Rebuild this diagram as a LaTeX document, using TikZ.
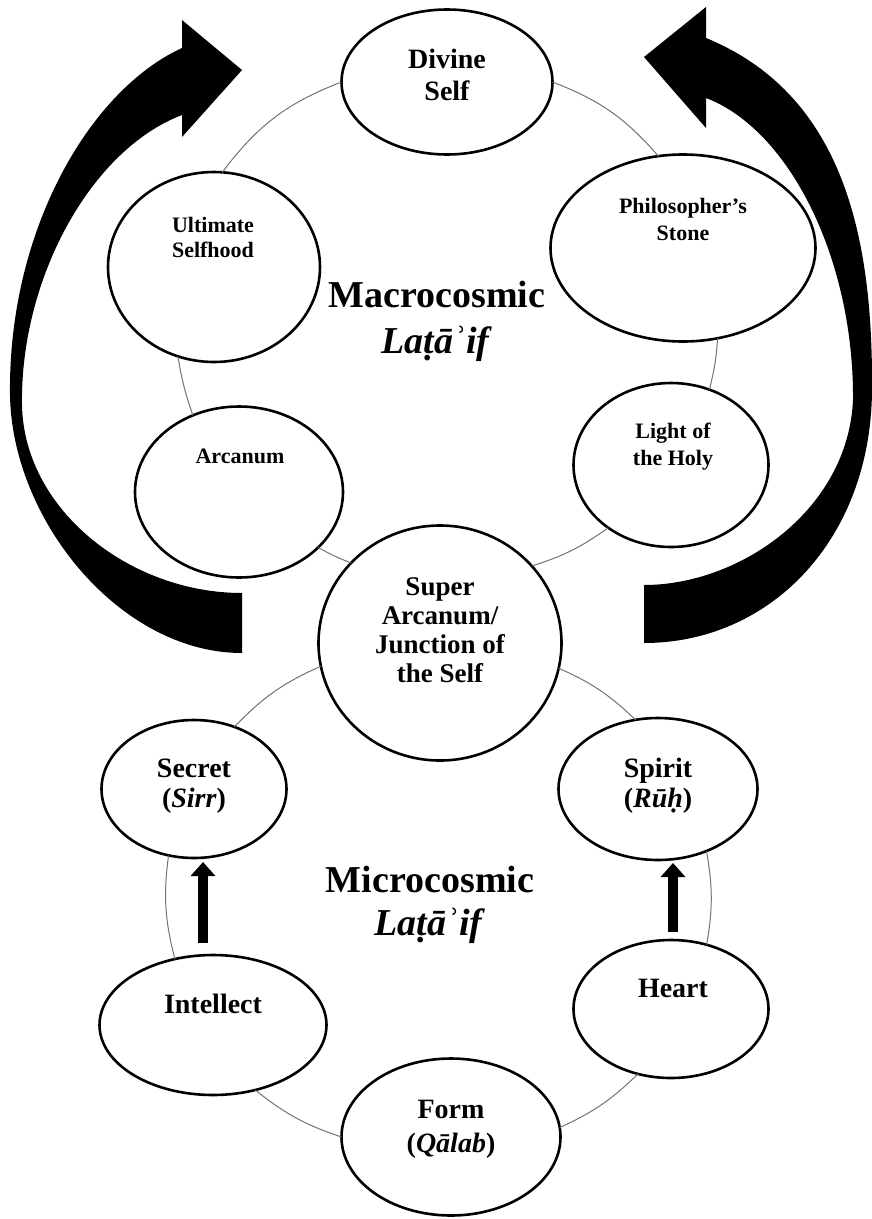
\documentclass[tikz,border=0pt]{standalone}
\usepackage{fontspec}
\setmainfont{Liberation Serif}
\usetikzlibrary{arrows.meta,shapes.geometric}
\tikzset{
  oval/.style={ellipse, draw, line width=2.6pt, fill=white, inner sep=0pt, outer sep=0pt},
  conn/.style={draw=black!55, line width=1pt},
  small/.style={font=\bfseries\fontsize{22}{26}\selectfont, align=center, anchor=base, inner sep=0pt},
  med/.style={font=\bfseries\fontsize{28}{31}\selectfont, align=center, anchor=base, inner sep=0pt},
  big/.style={font=\bfseries\fontsize{38}{46}\selectfont, align=center, anchor=base, inner sep=0pt},
  uparrow/.style={line width=10pt, -{Triangle[width=24pt,length=14pt]}},
  bigarrow/.style={fill=black, draw=none},
}
\begin{document}
\begin{tikzpicture}[x=1pt,y=-1pt]
\useasboundingbox (0,0) rectangle (872,1219);
% big curved arrows
\path[bigarrow] (242,593) .. controls (130,593) and (24,510) .. (22,405)
  .. controls (20,280) and (90,150) .. (182,115)
  -- (182,137) -- (242,70) -- (182,20) -- (182,48)
  .. controls (90,90) and (8,230) .. (10,395)
  .. controls (12,520) and (120,653) .. (242,653) -- cycle;
\path[bigarrow] (644,585) .. controls (740,585) and (848,510) .. (853,400)
  .. controls (854,260) and (790,130) .. (706,98)
  -- (706,128) -- (644,57) -- (706,7) -- (706,38)
  .. controls (845,95) and (873,240) .. (872,390)
  .. controls (871,540) and (770,643) .. (644,643) -- cycle;
% ovals
\node[oval, minimum width=211pt, minimum height=145pt] (dv) at (447,82) {};
\node[oval, minimum width=212pt, minimum height=190pt] (us) at (214,267) {};
\node[oval, minimum width=265pt, minimum height=187pt] (ps) at (683,248) {};
\node[oval, minimum width=195pt, minimum height=164pt] (lh) at (671,465) {};
\node[oval, minimum width=208pt, minimum height=171pt] (ar) at (239,492) {};
\node[oval, minimum width=243pt, minimum height=235pt] (sa) at (440,643) {};
\node[oval, minimum width=185pt, minimum height=138pt] (se) at (194,789) {};
\node[oval, minimum width=199pt, minimum height=142pt] (sp) at (658,789) {};
\node[oval, minimum width=227pt, minimum height=140pt] (in) at (213,1025) {};
\node[oval, minimum width=195pt, minimum height=138pt] (he) at (671,1009) {};
\node[oval, minimum width=219pt, minimum height=157pt] (fo) at (451,1137) {};
% connectors, macrocosmic ring
\draw[conn] (dv.180) to[bend right=16] (us.85);
\draw[conn] (us.-112) to[bend right=5] (ar.121);
\draw[conn] (ar.-35) to[bend right=4] (sa.138);
\draw[conn] (sa.40) to[bend right=9] (lh.-135);
\draw[conn] (lh.63) to[bend right=5] (ps.-69);
\draw[conn] (ps.105) to[bend right=14] (dv.0);
% connectors, microcosmic ring
\draw[conn] (sa.191) to[bend right=11] (se.57);
\draw[conn] (se.-111) to[bend right=11] (in.120);
\draw[conn] (in.-57) to[bend right=10] (fo.180);
\draw[conn] (fo.5) to[bend right=10] (he.-117);
\draw[conn] (he.61) to[bend right=10] (sp.-52);
\draw[conn] (sp.108) to[bend right=10] (sa.-12);
% labels (anchor = baseline of last line)
\node[med, font=\bfseries\fontsize{28}{32}\selectfont] (dvt) at (447,100) {Divine\\Self};
\node[small, font=\bfseries\fontsize{22}{25}\selectfont] (ust) at (213,257) {Ultimate\\Selfhood};
\node[small, font=\bfseries\fontsize{22}{27}\selectfont] (pst) at (683,240) {Philosopher’s\\Stone};
\node[small, font=\bfseries\fontsize{22}{27}\selectfont] (lht) at (673,465) {Light of\\the Holy};
\node[small] (art) at (240,463) {Arcanum};
\node[med, font=\bfseries\fontsize{27}{29}\selectfont] (sat) at (440,682) {Super\\Arcanum/\\Junction of\\the Self};
\node[med, font=\bfseries\fontsize{28}{30}\selectfont] (set) at (194,807) {Secret\\(\textit{Sirr})};
\node[med, font=\bfseries\fontsize{28}{30}\selectfont] (spt) at (658,807) {Spirit\\(\textit{Rūḥ})};
\node[med] (int) at (213,1013) {Intellect};
\node[med] (het) at (673,997) {Heart};
\node[med, font=\bfseries\fontsize{28}{34}\selectfont] (fot) at (451,1152) {Form\\(\textit{Qālab})};
\node[big] (mac) at (437,353) {Macrocosmic\\\textit{Laṭāʾif}};
\node[big, font=\bfseries\fontsize{38}{43}\selectfont] (mic) at (430,935) {Microcosmic\\\textit{Laṭāʾif}};
% small up arrows
\coordinate (a1s) at (203,943);
\coordinate (a1e) at (203,862);
\coordinate (a2s) at (673,932);
\coordinate (a2e) at (673,863);
\draw[uparrow] (a1s) -- (a1e);
\draw[uparrow] (a2s) -- (a2e);
\end{tikzpicture}
\end{document}
